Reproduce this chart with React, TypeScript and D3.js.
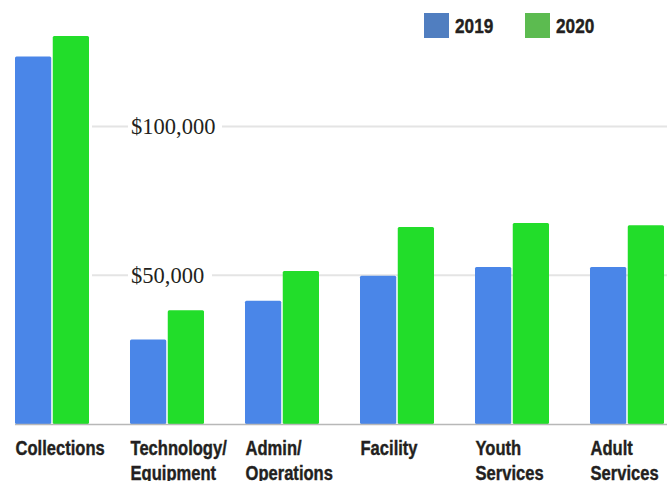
import React from "react";
import * as d3 from "d3";

const categories = ["Collections", "Technology/Equipment", "Admin/Operations", "Facility", "Youth Services", "Adult Services"];
const categoryLines = [["Collections"], ["Technology/", "Equipment"], ["Admin/", "Operations"], ["Facility"], ["Youth", "Services"], ["Adult", "Services"]];
const seriesNames = ["2019", "2020"];
const values2019 = [123500, 28400, 41400, 49800, 52800, 52800];
const values2020 = [130400, 38250, 51450, 66200, 67550, 66800];
const tickValues = [50000, 100000];
const tickLabels = ["$50,000", "$100,000"];

const W = 667;
const H = 481;
const barColors = ["#4a86e8", "#22dd2a"];
const legendColors = ["#507ec0", "#5cbb50"];
const textColor = "#231f20";
const sans = "'Liberation Sans', Arial, sans-serif";
const serif = "'Liberation Serif', 'Times New Roman', serif";
const narrowScale = 0.82;

export default function App() {
  const x0 = d3.scaleBand<string>().domain(categories).range([15, 664]).paddingInner(0.3565).paddingOuter(0);
  const x1 = d3.scaleBand<string>().domain(seriesNames).range([0, x0.bandwidth()]).paddingInner(0.04);
  const y = d3.scaleLinear().domain([0, 100000]).range([424, 126.5]);
  const seriesValues = [values2019, values2020];

  return (
    <svg width={W} height={H} style={{ position: "absolute", left: 0, top: 0, background: "#fff" }}>
      <rect x={0} y={0} width={W} height={H} fill="#fff" />
      {tickValues.map((t) => (
        <line key={"g" + t} x1={92} x2={W} y1={y(t)} y2={y(t)} stroke="#e4e4e4" strokeWidth={2} />
      ))}
      {categories.map((c, i) => (
        <g key={c} transform={`translate(${x0(c)},0)`}>
          {seriesNames.map((s, j) => {
            const v = seriesValues[j][i];
            return (
              <rect key={s} x={x1(s)} y={y(v)} width={x1.bandwidth()} height={y(0) - y(v)} fill={barColors[j]} rx={1.5} />
            );
          })}
        </g>
      ))}
      <line x1={15} x2={W} y1={y(0) + 0.5} y2={y(0) + 0.5} stroke="#b8b8b8" strokeWidth={1.5} />
      {tickValues.map((t, i) => {
        const label = tickLabels[i];
        return (
          <g key={"t" + t}>
            <rect x={128} y={y(t) - 6} width={label.length > 7 ? 94 : 84} height={12} fill="#fff" />
            <text x={131} y={y(t)} dy="0.35em" fontFamily={serif} fontSize={22.5} fill={textColor}>
              {label}
            </text>
          </g>
        );
      })}
      {categories.map((c, i) => (
        <g key={"l" + c} transform={`translate(${(x0(c) as number) + 0.5},455) scale(${narrowScale},1)`}>
          {categoryLines[i].map((ln, k) => (
            <text key={k} x={0} y={k * 25} fontFamily={sans} fontWeight="bold" fontSize={20.2} fill={textColor} stroke={textColor} strokeWidth={0.4}>
              {ln}
            </text>
          ))}
        </g>
      ))}
      {seriesNames.map((s, j) => (
        <g key={"lg" + s} transform={`translate(${424 + j * 101},13)`}>
          <rect x={0} y={0} width={25} height={25} fill={legendColors[j]} />
          <text x={31 / narrowScale} y={20} transform={`scale(${narrowScale},1)`} fontFamily={sans} fontWeight="bold" fontSize={21} fill={textColor} stroke={textColor} strokeWidth={0.4}>
            {s}
          </text>
        </g>
      ))}
    </svg>
  );
}
